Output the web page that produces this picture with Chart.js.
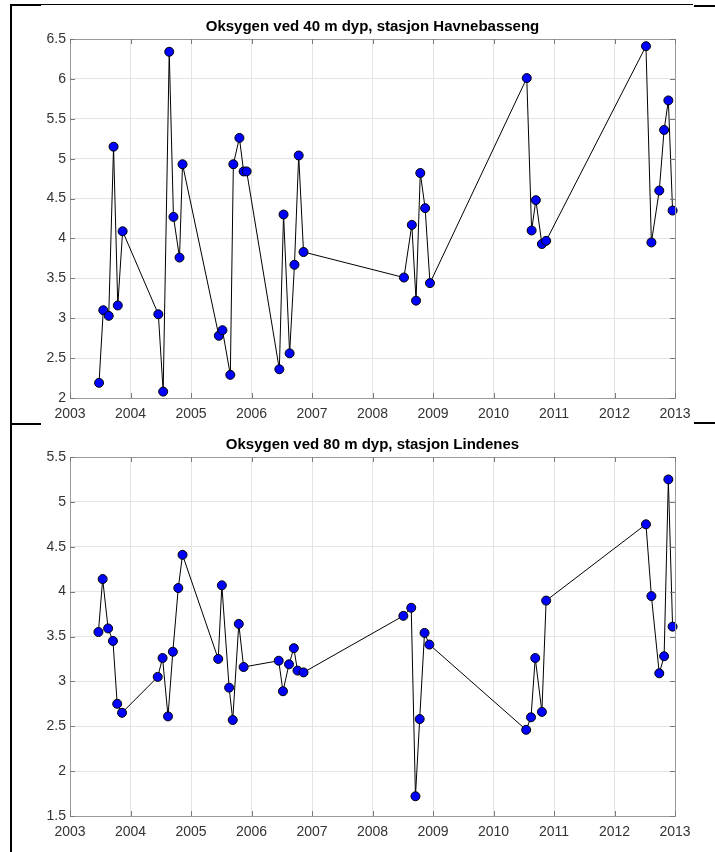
<!DOCTYPE html>
<html>
<head>
<meta charset="utf-8">
<script src="https://cdn.jsdelivr.net/npm/chart.js@4/dist/chart.umd.min.js"></script>
<style>
    body { margin: 0; background: #fff; }
    #wrap { position: relative; width: 715px; height: 852px; overflow: hidden; background: #fff; }
    .blk { position: absolute; background: #000; }
    canvas { position: absolute; left: 0; }
</style>
</head>
<body>
<div id="wrap">
    <canvas id="chart40" width="715" height="425" style="top:0"></canvas>
    <canvas id="chart80" width="715" height="427" style="top:425px"></canvas>
    <!-- black lines from the page the plot was cut out of -->
    <div class="blk" style="left:10px; top:4px; width:2px; height:848px"></div>
    <div class="blk" style="left:10px; top:4px; width:31px; height:2px"></div>
    <div class="blk" style="left:41px; top:4px; width:652px; height:1px"></div>
    <div class="blk" style="left:694px; top:5px; width:21px; height:2px"></div>
    <div class="blk" style="left:12px; top:423px; width:29px; height:2px"></div>
    <div class="blk" style="left:694px; top:422px; width:21px; height:2px"></div>
</div>
<script>

    // tidspunkt (desimalår) og oksygen, 40 m Havnebasseng
    var years40 = [2003.48, 2003.55, 2003.64, 2003.72, 2003.79, 2003.87,
        2004.46, 2004.54, 2004.64, 2004.71, 2004.81, 2004.86,
        2005.46, 2005.52, 2005.65, 2005.70, 2005.80, 2005.87, 2005.92,
        2006.46, 2006.53, 2006.63, 2006.71, 2006.78, 2006.86,
        2008.52, 2008.65, 2008.72, 2008.79, 2008.87, 2008.95,
        2010.55, 2010.63, 2010.70, 2010.80, 2010.87,
        2012.52, 2012.61, 2012.74, 2012.82, 2012.89, 2012.96];
    var oxy40 = [2.19, 3.10, 3.03, 5.15, 3.16, 4.09,
        3.05, 2.08, 6.34, 4.27, 3.76, 4.93,
        2.78, 2.85, 2.29, 4.93, 5.26, 4.84, 4.84,
        2.36, 4.30, 2.56, 3.67, 5.04, 3.83,
        3.51, 4.17, 3.22, 4.82, 4.38, 3.44,
        6.01, 4.10, 4.48, 3.93, 3.97,
        6.41, 3.95, 4.60, 5.36, 5.73, 4.35];

    // tidspunkt og oksygen, 80 m Lindenes
    var years80 = [2003.47, 2003.54, 2003.63, 2003.71, 2003.78, 2003.86,
        2004.45, 2004.53, 2004.62, 2004.70, 2004.79, 2004.86,
        2005.45, 2005.51, 2005.63, 2005.69, 2005.79, 2005.87,
        2006.45, 2006.52, 2006.62, 2006.70, 2006.76, 2006.86,
        2008.51, 2008.64, 2008.71, 2008.78, 2008.86, 2008.94,
        2010.54, 2010.62, 2010.69, 2010.80, 2010.87,
        2012.52, 2012.61, 2012.74, 2012.82, 2012.89, 2012.96];
    var oxy80 = [3.55, 4.14, 3.59, 3.45, 2.75, 2.65,
        3.05, 3.26, 2.61, 3.33, 4.04, 4.41,
        3.25, 4.07, 2.93, 2.57, 3.64, 3.16,
        3.23, 2.89, 3.19, 3.37, 3.12, 3.10,
        3.73, 3.82, 1.72, 2.58, 3.54, 3.41,
        2.46, 2.60, 3.26, 2.66, 3.90,
        4.75, 3.95, 3.09, 3.28, 5.25, 3.61];

    var xTicks = [2003, 2004, 2005, 2006, 2007, 2008, 2009, 2010, 2011, 2012, 2013];
    var yRange40 = [2, 6.5];
    var yRange80 = [1.5, 5.5];

    var title40 = 'Oksygen ved 40 m dyp, stasjon Havnebasseng';
    var title80 = 'Oksygen ved 80 m dyp, stasjon Lindenes';


    // FUNZIONI

    var matlabBox = {      // tittel, ramme og tick-merker inn i plottet, som i MATLAB
        id: 'matlabBox',
        afterDraw: function (chart) {
            var ctx = chart.ctx;
            var a = chart.chartArea;
            var xs = chart.scales.x;
            var ys = chart.scales.y;
            ctx.save();
            ctx.strokeStyle = '#9a9a9a';
            ctx.lineWidth = 1;
            ctx.strokeRect(Math.round(a.left) + 0.5, Math.round(a.top) + 0.5,
                Math.round(a.right - a.left), Math.round(a.bottom - a.top));
            ctx.strokeStyle = '#7a7a7a';
            ctx.beginPath();
            xs.ticks.forEach(function (t) {
                var px = Math.round(xs.getPixelForValue(t.value)) + 0.5;
                ctx.moveTo(px, a.bottom); ctx.lineTo(px, a.bottom - 5);
                ctx.moveTo(px, a.top); ctx.lineTo(px, a.top + 5);
            });
            ys.ticks.forEach(function (t) {
                var py = Math.round(ys.getPixelForValue(t.value)) + 0.5;
                ctx.moveTo(a.left, py); ctx.lineTo(a.left + 5, py);
                ctx.moveTo(a.right, py); ctx.lineTo(a.right - 5, py);
            });
            ctx.stroke();
            ctx.fillStyle = '#000';
            ctx.font = 'bold 15px "Liberation Sans", Arial, sans-serif';
            ctx.textAlign = 'center';
            ctx.textBaseline = 'middle';
            ctx.fillText(chart.options.plugins.matlabBox.text, (a.left + a.right) / 2, a.top - 12);
            ctx.restore();
        }
    };

    function lagGraf(id, years, values, yRange, tittel, padTop, xHeight) {    // lager en graf med Chart.js
        var punkter = years.map(function (x, i) { return { x: x, y: values[i] }; });
        var tickFont = { family: '"Liberation Sans", Arial, sans-serif', size: 14 };
        return new Chart(document.getElementById(id), {
            type: 'line',
            data: {
                datasets: [{
                    data: punkter,
                    borderColor: '#000',
                    borderWidth: 1,
                    backgroundColor: '#0000ff',
                    pointBackgroundColor: '#0000ff',
                    pointBorderColor: '#000',
                    pointBorderWidth: 1,
                    pointRadius: 4.5,
                    tension: 0,
                    clip: false
                }]
            },
            options: {
                responsive: false,
                animation: false,
                devicePixelRatio: 1,
                layout: { padding: { top: padTop, right: 40, left: 0, bottom: 0 } },
                plugins: {
                    legend: { display: false },
                    tooltip: { enabled: false },
                    matlabBox: { text: tittel }
                },
                scales: {
                    x: {
                        type: 'linear',
                        min: xTicks[0],
                        max: xTicks[xTicks.length - 1],
                        afterBuildTicks: function (s) {
                            s.ticks = xTicks.map(function (v) { return { value: v }; });
                        },
                        afterFit: function (s) { s.height = xHeight; },
                        grid: { color: '#e4e4e4', drawTicks: false },
                        border: { display: false },
                        ticks: {
                            color: '#333',
                            font: tickFont,
                            padding: 8,
                            maxRotation: 0,
                            autoSkip: false,
                            callback: function (v) { return String(v); }
                        }
                    },
                    y: {
                        min: yRange[0],
                        max: yRange[1],
                        afterFit: function (s) { s.width = 70; },
                        grid: { color: '#e4e4e4', drawTicks: false },
                        border: { display: false },
                        ticks: {
                            color: '#333',
                            font: tickFont,
                            padding: 4,
                            stepSize: 0.5,
                            callback: function (v) { return String(Math.round(v * 10) / 10); }
                        }
                    }
                }
            },
            plugins: [matlabBox]
        });
    }

    lagGraf('chart40', years40, oxy40, yRange40, title40, 39, 27);
    lagGraf('chart80', years80, oxy80, yRange80, title80, 32, 36);

</script>
</body>
</html>
